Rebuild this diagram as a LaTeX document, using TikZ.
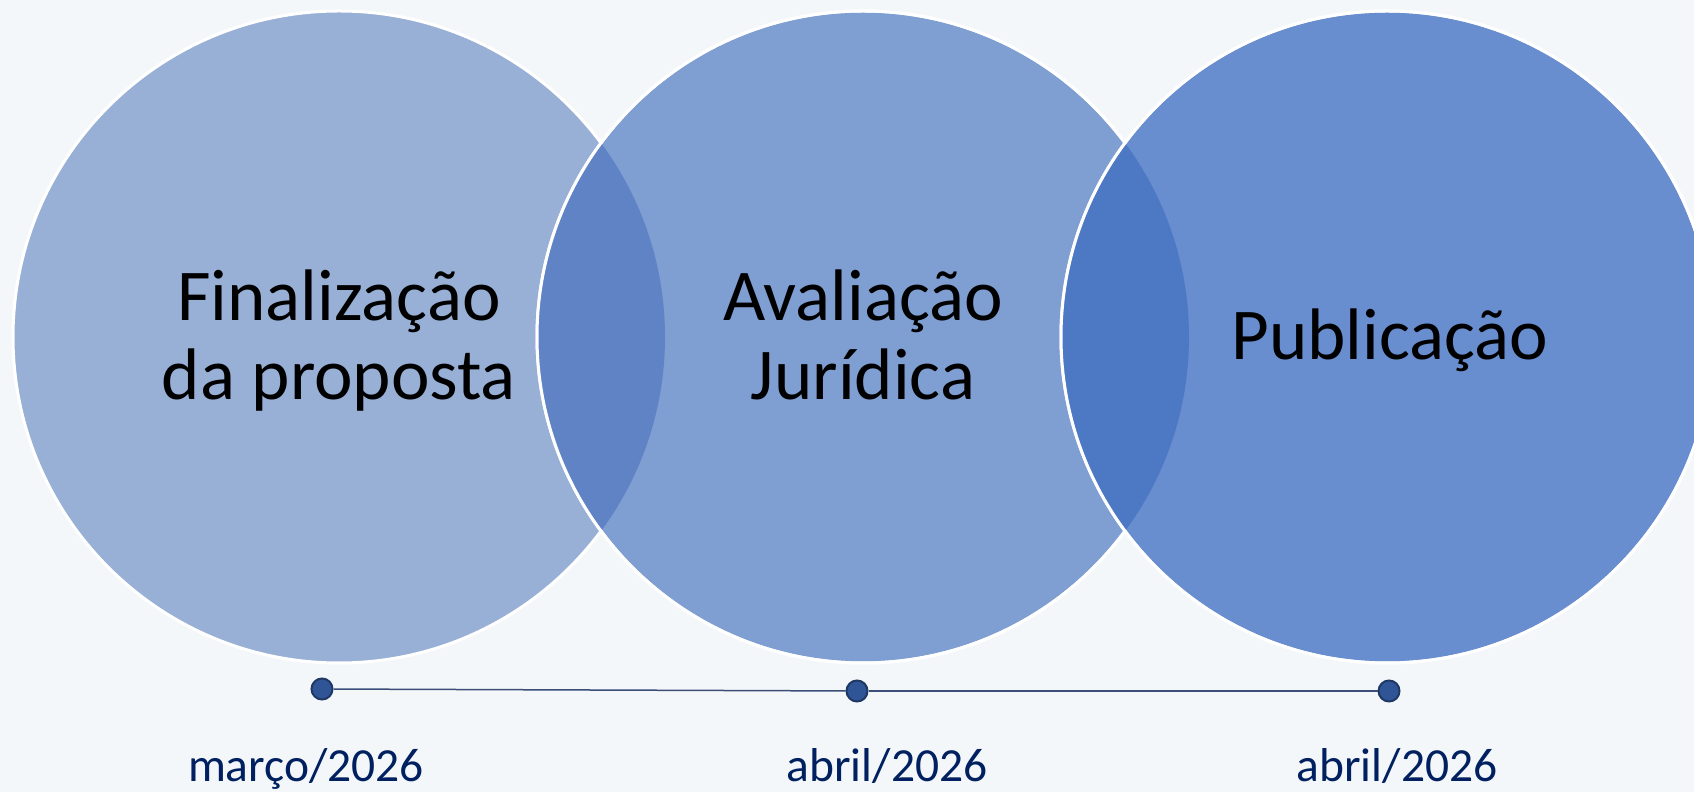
\documentclass[tikz,border=0pt]{standalone}
\usepackage{fontspec}
\setmainfont{Carlito}
\definecolor{bgc}{HTML}{F4F7FA}
\definecolor{cone}{HTML}{98B0D6}
\definecolor{ctwo}{HTML}{7F9ED2}
\definecolor{cthree}{HTML}{688ED0}
\definecolor{lensa}{HTML}{5F83C4}
\definecolor{lensb}{HTML}{4D78C3}
\definecolor{dotfill}{HTML}{2F5597}
\definecolor{dotline}{HTML}{1F3864}
\definecolor{tline}{HTML}{3A4E78}
\definecolor{datec}{HTML}{002060}
\tikzset{
  ring/.style={draw=white, line width=3pt},
  maintext/.style={anchor=base, inner sep=0pt, font=\fontsize{73}{79}\selectfont, text=black},
  datetext/.style={anchor=base, inner sep=0pt, font=\fontsize{47.5}{57}\selectfont, text=datec},
  tdot/.style={circle, fill=dotfill, draw=dotline, line width=2pt, minimum size=21pt, inner sep=0pt},
  tconn/.style={draw=tline, line width=1.5pt}
}
\begin{document}
\begin{tikzpicture}[x=1pt,y=1pt]
\fill[bgc] (0,0) rectangle (1694,792);
\useasboundingbox (0,0) rectangle (1694,792);
\clip (0,0) rectangle (1694,792);
% circles
\coordinate (c1) at (339,455);
\coordinate (c2) at (863,455);
\coordinate (c3) at (1387,455);
\fill[cone] (c1) circle (326);
\draw[ring] (c1) circle (326);
\fill[ctwo] (c2) circle (326);
\draw[ring] (c2) circle (326);
\begin{scope}
  \clip (c1) circle (326);
  \fill[lensa] (c2) circle (326);
\end{scope}
\draw[ring] (c2) circle (326);
\fill[cthree] (c3) circle (326);
\draw[ring] (c3) circle (326);
\begin{scope}
  \clip (c2) circle (326);
  \fill[lensb] (c3) circle (326);
\end{scope}
\draw[ring] (c3) circle (326);
% main labels
\node[maintext] (t1a) at (339,471) {Finalização};
\node[maintext] (t1b) at (339,392) {da proposta};
\node[maintext] (t2a) at (863,471) {Avaliação};
\node[maintext] (t2b) at (863,392) {Jurídica};
\node[maintext] (t3) at (1390,432) {Publicação};
% timeline
\node[tdot] (d1) at (322,103) {};
\node[tdot] (d2) at (857,101) {};
\node[tdot] (d3) at (1389,101) {};
\draw[tconn] (d1) -- (d2);
\draw[tconn] (d2) -- (d3);
% dates
\node[datetext] (l1) at (306,10) {março/2026};
\node[datetext] (l2) at (887,10) {abril/2026};
\node[datetext] (l3) at (1397,10) {abril/2026};
\end{tikzpicture}
\end{document}
